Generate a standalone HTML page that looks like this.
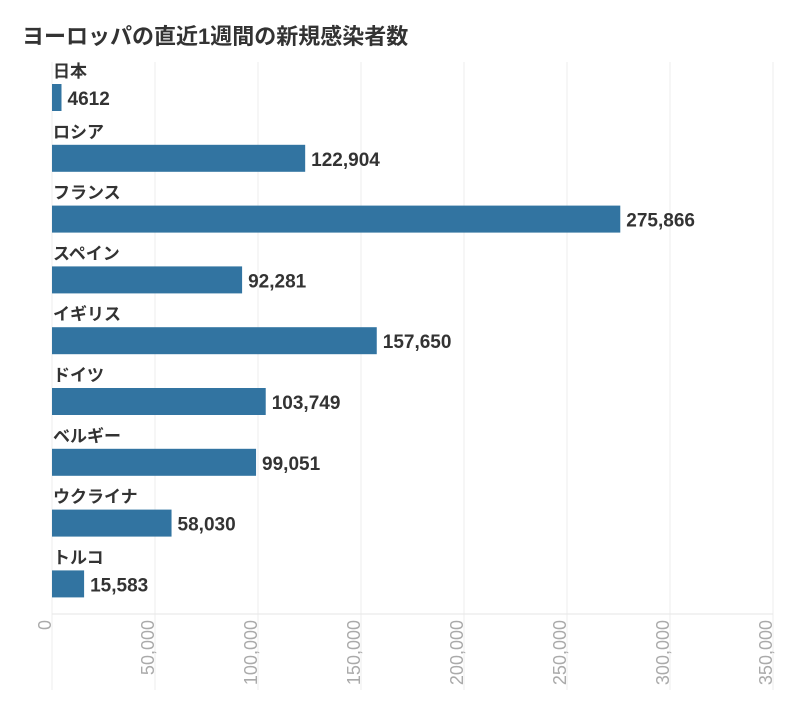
<!DOCTYPE html>
<html><head><meta charset="utf-8">
<style>
body{margin:0;background:#fff;width:800px;height:706px;overflow:hidden;font-family:"Liberation Sans","Noto Sans CJK JP",sans-serif;}
</style></head>
<body>
<svg width="800" height="706" xmlns="http://www.w3.org/2000/svg">
<text x="22" y="44" font-size="22" font-weight="bold" fill="#333" font-family="Liberation Sans, Noto Sans CJK JP, sans-serif">ヨーロッパの直近1週間の新規感染者数</text>
<g id="grid"></g>
<g id="bars"></g>
<g id="ticks"></g>
</svg>
<script>
const categories=["日本","ロシア","フランス","スペイン","イギリス","ドイツ","ベルギー","ウクライナ","トルコ"];
const values=[4612,122904,275866,92281,157650,103749,99051,58030,15583];
const valueLabels=["4612","122,904","275,866","92,281","157,650","103,749","99,051","58,030","15,583"];
const tickValues=[0,50000,100000,150000,200000,250000,300000,350000];
const tickLabels=["0","50,000","100,000","150,000","200,000","250,000","300,000","350,000"];
const NS="http://www.w3.org/2000/svg";
const x0=52,x1=773,maxV=350000;
const xs=v=>x0+(x1-x0)*v/maxV;
const rowTop=66,rowH=60.8;
function mk(t,a,p){const e=document.createElementNS(NS,t);for(const k in a)e.setAttribute(k,a[k]);p.appendChild(e);return e;}
const grid=document.getElementById('grid'),bars=document.getElementById('bars'),ticks=document.getElementById('ticks');
tickValues.forEach((v,i)=>{
  const x=xs(v);
  const l=mk('line',{x1:x,x2:x,y1:62,y2:690,stroke:'#ececec','stroke-width':1},grid);
  
  
  const t=mk('text',{x:0,y:0,transform:`translate(${x-6},620) rotate(-90)`,'text-anchor':'end','font-size':18,fill:'#aaa','dominant-baseline':'middle'},ticks);
  t.textContent=tickLabels[i];
  
  
});
const ax=mk('line',{x1:x0,x2:x1,y1:614,y2:614,stroke:'#e6e6e6'},ticks);


categories.forEach((c,i)=>{
  const y=rowTop+i*rowH;
  const lab=mk('text',{x:53,y:y+11,'font-size':17,'font-weight':'bold',fill:'#333'},bars);
  lab.textContent=c;
  
  
  const r=mk('rect',{x:x0,y:y+18,width:Math.max(1,xs(values[i])-x0),height:27,fill:'#3274a1'},bars);
  
  
  const vt=mk('text',{x:xs(values[i])+6,y:y+39,'font-size':19,'font-weight':'bold',fill:'#333'},bars);
  vt.textContent=valueLabels[i];
  
  
});
</script>
</body></html>
